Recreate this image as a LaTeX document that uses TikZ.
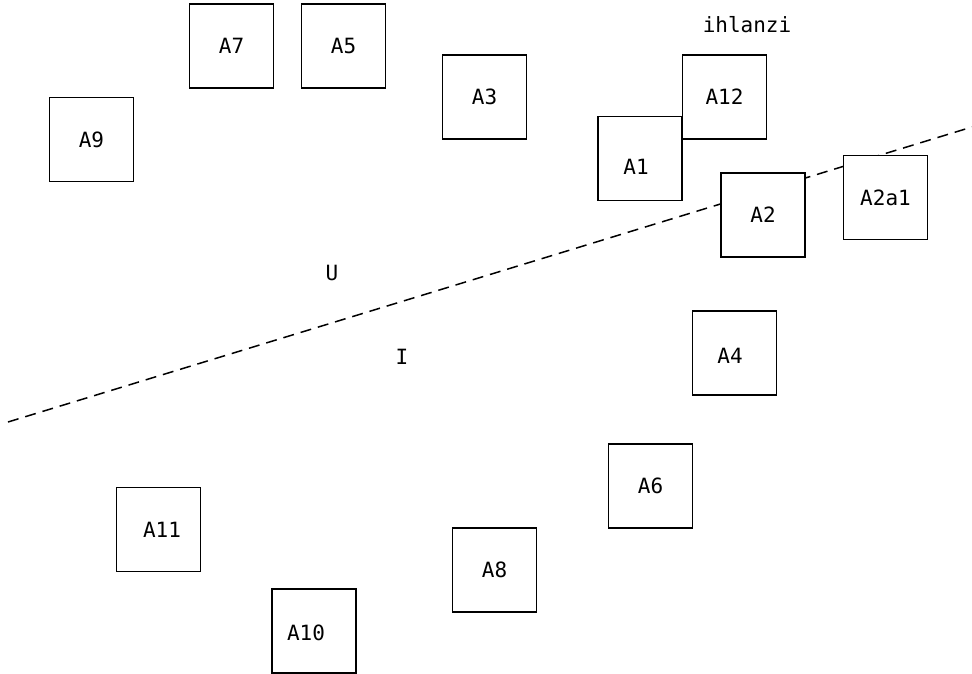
\documentclass[tikz,border=0pt]{standalone}
\usepackage{fontspec}
\setmonofont{DejaVu Sans Mono}
\begin{document}
\begin{tikzpicture}[x=1pt,y=-1pt,
  boxnode/.style={draw,line width=1.2pt,fill=white,minimum width=84pt,minimum height=84pt,inner sep=0pt,font=\ttfamily\fontsize{21}{21}\selectfont},
  labnode/.style={inner sep=0pt,font=\ttfamily\fontsize{21}{21}\selectfont}]
\useasboundingbox (0,0) rectangle (972,673);
\coordinate (dl) at (8,422);
\coordinate (dr) at (972,127);
\draw[line width=1.5pt,dash pattern=on 11pt off 7pt] (dl) -- (dr);
\node[boxnode] (a7) at (231.5,46) {A7};
\node[boxnode] (a5) at (343.5,46) {A5};
\node[boxnode] (a3) at (484.5,97) {A3};
\node[boxnode] (a9) at (91.5,139.5) {A9};
\node[boxnode] (a12) at (724.5,97) {A12};
\node[boxnode] (a1) at (640,158.5) {};
\node[labnode] (a1l) at (636,167) {A1};
\node[boxnode] (a2) at (763,215) {A2};
\node[boxnode] (a2a1) at (885.5,197.5) {A2a1};
\node[boxnode] (a4) at (734.5,353) {};
\node[labnode] (a4l) at (730,356) {A4};
\node[boxnode] (a6) at (650.5,486) {A6};
\node[boxnode] (a11) at (158.5,529.5) {};
\node[labnode] (a11l) at (162,530) {A11};
\node[boxnode] (a8) at (494.5,570) {A8};
\node[boxnode] (a10) at (314,631) {};
\node[labnode] (a10l) at (306,633) {A10};
\node[labnode] (ih) at (747,25) {ihlanzi};
\node[labnode] (u) at (332,273) {U};
\node[labnode] (i) at (402,357) {I};
\end{tikzpicture}
\end{document}
